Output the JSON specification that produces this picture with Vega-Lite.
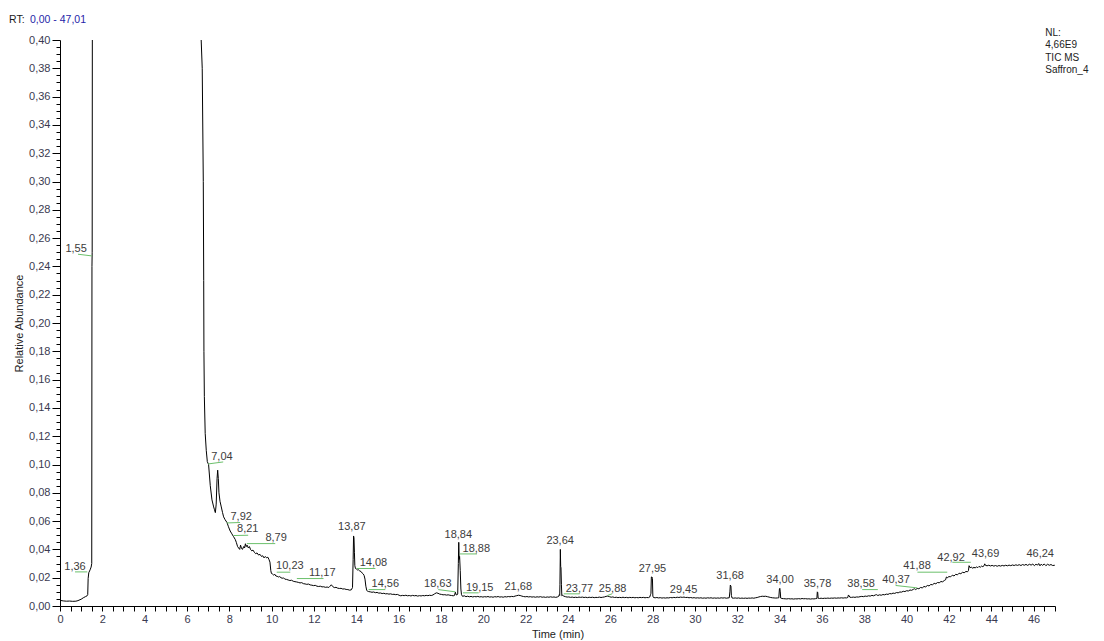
{
  "$schema": "https://vega.github.io/schema/vega-lite/v6.json",
  "width": 995,
  "height": 566,
  "autosize": {"type": "none"},
  "padding": {"left": 60, "top": 40, "right": 49, "bottom": 35},
  "background": "white",
  "config": {"view": {"stroke": null}, "font": "Liberation Sans"},
  "datasets": {
    "trace": [
      {"t":0.00,"a":0.0040},{"t":0.15,"a":0.0036},{"t":0.30,"a":0.0034},{"t":0.45,"a":0.0035},{"t":0.60,"a":0.0033},{"t":0.75,"a":0.0034},{"t":0.85,"a":0.0038},{"t":1.00,"a":0.0048},{"t":1.10,"a":0.0058},{"t":1.20,"a":0.0066},{"t":1.28,"a":0.0072},{"t":1.31,"a":0.0080},{"t":1.33,"a":0.0195},{"t":1.36,"a":0.0235},{"t":1.42,"a":0.0255},{"t":1.47,"a":0.0275},{"t":1.50,"a":0.0300},{"t":1.51,"a":0.2400},{"t":1.52,"a":0.2500},{"t":1.53,"a":0.4500},{"t":1.55,"a":1.0},
      {"t":6.55,"a":1.0},{"t":6.66,"a":0.43},{"t":6.67,"a":0.400},{"t":6.72,"a":0.380},{"t":6.77,"a":0.300},{"t":6.79,"a":0.230},{"t":6.80,"a":0.180},{"t":6.82,"a":0.148},{"t":6.86,"a":0.122},{"t":6.91,"a":0.110},{"t":6.96,"a":0.102},{"t":7.02,"a":0.100},{"t":7.10,"a":0.085},{"t":7.18,"a":0.075},{"t":7.26,"a":0.070},{"t":7.30,"a":0.068},{"t":7.34,"a":0.066},{"t":7.38,"a":0.072},{"t":7.42,"a":0.090},{"t":7.45,"a":0.096},{"t":7.48,"a":0.090},{"t":7.51,"a":0.080},{"t":7.56,"a":0.074},{"t":7.62,"a":0.070},{"t":7.68,"a":0.066},{"t":7.73,"a":0.063},{"t":7.80,"a":0.061},{"t":7.89,"a":0.059},{"t":7.96,"a":0.056},{"t":8.04,"a":0.053},{"t":8.12,"a":0.051},{"t":8.20,"a":0.049},{"t":8.28,"a":0.047},{"t":8.33,"a":0.045},{"t":8.39,"a":0.042},{"t":8.44,"a":0.041},{"t":8.49,"a":0.040},{"t":8.53,"a":0.043},{"t":8.57,"a":0.041},{"t":8.62,"a":0.040},{"t":8.68,"a":0.042},{"t":8.72,"a":0.041},{"t":8.76,"a":0.044},{"t":8.80,"a":0.042},{"t":8.84,"a":0.043},{"t":8.90,"a":0.041},{"t":8.95,"a":0.042},{"t":9.00,"a":0.040},{"t":9.06,"a":0.039},{"t":9.12,"a":0.0395},{"t":9.18,"a":0.038},{"t":9.24,"a":0.037},{"t":9.31,"a":0.0375},{"t":9.38,"a":0.036},{"t":9.45,"a":0.0365},{"t":9.52,"a":0.035},{"t":9.58,"a":0.0355},{"t":9.64,"a":0.034},{"t":9.70,"a":0.035},{"t":9.76,"a":0.034},{"t":9.82,"a":0.0345},{"t":9.87,"a":0.033},{"t":9.92,"a":0.031},{"t":9.96,"a":0.025},{"t":9.99,"a":0.023},
      {"t":10.05,"a":0.0225},{"t":10.10,"a":0.0218},{"t":10.15,"a":0.0224},{"t":10.20,"a":0.0212},{"t":10.26,"a":0.0210},{"t":10.32,"a":0.0205},{"t":10.38,"a":0.0208},{"t":10.44,"a":0.0200},{"t":10.50,"a":0.0196},{"t":10.56,"a":0.0199},{"t":10.62,"a":0.0190},{"t":10.70,"a":0.0188},{"t":10.78,"a":0.0184},{"t":10.86,"a":0.0180},{"t":10.94,"a":0.0182},{"t":11.02,"a":0.0175},{"t":11.10,"a":0.0172},{"t":11.18,"a":0.0170},{"t":11.26,"a":0.0167},{"t":11.34,"a":0.0163},{"t":11.42,"a":0.0165},{"t":11.50,"a":0.0158},{"t":11.58,"a":0.0156},{"t":11.66,"a":0.0153},{"t":11.74,"a":0.0155},{"t":11.82,"a":0.0149},{"t":11.90,"a":0.0147},{"t":11.98,"a":0.0144},{"t":12.06,"a":0.0146},{"t":12.14,"a":0.0140},{"t":12.22,"a":0.0138},{"t":12.30,"a":0.0140},{"t":12.38,"a":0.0135},{"t":12.46,"a":0.0136},{"t":12.54,"a":0.0132},{"t":12.62,"a":0.0134},{"t":12.70,"a":0.0131},{"t":12.76,"a":0.0140},{"t":12.82,"a":0.0150},{"t":12.88,"a":0.0138},{"t":12.96,"a":0.0130},{"t":13.04,"a":0.0132},{"t":13.12,"a":0.0126},{"t":13.20,"a":0.0124},{"t":13.28,"a":0.0125},{"t":13.36,"a":0.0120},{"t":13.44,"a":0.0121},{"t":13.52,"a":0.0117},{"t":13.60,"a":0.0116},{"t":13.68,"a":0.0112},{"t":13.76,"a":0.0114},{"t":13.82,"a":0.0130},{"t":13.85,"a":0.0330},{"t":13.87,"a":0.0495},{"t":13.89,"a":0.0480},{"t":13.91,"a":0.0380},{"t":13.93,"a":0.0285},{"t":13.96,"a":0.0265},{"t":14.00,"a":0.0262},{"t":14.05,"a":0.0255},{"t":14.10,"a":0.0256},{"t":14.16,"a":0.0248},{"t":14.22,"a":0.0244},{"t":14.28,"a":0.0232},{"t":14.33,"a":0.0226},{"t":14.37,"a":0.0215},{"t":14.41,"a":0.0190},{"t":14.45,"a":0.0140},{"t":14.49,"a":0.0112},{"t":14.53,"a":0.0104},{"t":14.58,"a":0.0102},{"t":14.66,"a":0.0100},{"t":14.74,"a":0.0097},{"t":14.82,"a":0.0099},{"t":14.90,"a":0.0094},{"t":14.98,"a":0.0096},{"t":15.06,"a":0.0091},{"t":15.14,"a":0.0092},{"t":15.22,"a":0.0088},{"t":15.30,"a":0.0090},{"t":15.38,"a":0.0086},{"t":15.46,"a":0.0087},{"t":15.54,"a":0.0084},{"t":15.62,"a":0.0086},{"t":15.70,"a":0.0082},{"t":15.78,"a":0.0083},{"t":15.86,"a":0.0080},{"t":15.94,"a":0.0082},{"t":16.02,"a":0.0076},{"t":16.10,"a":0.0072},{"t":16.18,"a":0.0075},{"t":16.26,"a":0.0073},{"t":16.34,"a":0.0076},{"t":16.42,"a":0.0072},{"t":16.50,"a":0.0074},{"t":16.58,"a":0.0071},{"t":16.66,"a":0.0075},{"t":16.74,"a":0.0072},{"t":16.82,"a":0.0074},{"t":16.90,"a":0.0070},{"t":16.98,"a":0.0073},{"t":17.06,"a":0.0071},{"t":17.14,"a":0.0074},{"t":17.22,"a":0.0072},{"t":17.30,"a":0.0075},{"t":17.38,"a":0.0073},{"t":17.46,"a":0.0076},{"t":17.54,"a":0.0074},{"t":17.62,"a":0.0078},{"t":17.70,"a":0.0086},{"t":17.78,"a":0.0093},{"t":17.86,"a":0.0090},{"t":17.94,"a":0.0084},{"t":18.02,"a":0.0082},{"t":18.10,"a":0.0079},{"t":18.18,"a":0.0080},{"t":18.26,"a":0.0077},{"t":18.34,"a":0.0079},{"t":18.42,"a":0.0076},{"t":18.50,"a":0.0074},{"t":18.58,"a":0.0072},{"t":18.64,"a":0.0075},{"t":18.68,"a":0.0098},{"t":18.71,"a":0.0080},{"t":18.75,"a":0.0078},{"t":18.79,"a":0.0085},{"t":18.82,"a":0.0300},{"t":18.84,"a":0.0450},{"t":18.86,"a":0.0330},{"t":18.88,"a":0.0350},{"t":18.91,"a":0.0250},{"t":18.94,"a":0.0120},{"t":18.97,"a":0.0080},
      {"t":19.02,"a":0.0068},{"t":19.10,"a":0.0072},{"t":19.18,"a":0.0066},{"t":19.26,"a":0.0069},{"t":19.34,"a":0.0065},{"t":19.42,"a":0.0068},{"t":19.50,"a":0.0064},{"t":19.58,"a":0.0067},{"t":19.66,"a":0.0065},{"t":19.74,"a":0.0068},{"t":19.82,"a":0.0064},{"t":19.90,"a":0.0066},{"t":19.98,"a":0.0063},{"t":20.06,"a":0.0066},{"t":20.14,"a":0.0064},{"t":20.22,"a":0.0067},{"t":20.30,"a":0.0063},{"t":20.38,"a":0.0065},{"t":20.46,"a":0.0062},{"t":20.54,"a":0.0066},{"t":20.62,"a":0.0064},{"t":20.70,"a":0.0067},{"t":20.78,"a":0.0063},{"t":20.86,"a":0.0065},{"t":20.94,"a":0.0062},{"t":21.02,"a":0.0066},{"t":21.10,"a":0.0064},{"t":21.18,"a":0.0067},{"t":21.26,"a":0.0065},{"t":21.34,"a":0.0068},{"t":21.42,"a":0.0066},{"t":21.50,"a":0.0070},{"t":21.58,"a":0.0073},{"t":21.66,"a":0.0076},{"t":21.74,"a":0.0074},{"t":21.82,"a":0.0070},{"t":21.90,"a":0.0067},{"t":21.98,"a":0.0065},{"t":22.06,"a":0.0067},{"t":22.14,"a":0.0064},{"t":22.22,"a":0.0066},{"t":22.30,"a":0.0063},{"t":22.38,"a":0.0065},{"t":22.46,"a":0.0062},{"t":22.54,"a":0.0065},{"t":22.62,"a":0.0063},{"t":22.70,"a":0.0066},{"t":22.78,"a":0.0062},{"t":22.86,"a":0.0064},{"t":22.94,"a":0.0061},{"t":23.02,"a":0.0064},{"t":23.10,"a":0.0062},{"t":23.18,"a":0.0065},{"t":23.26,"a":0.0062},{"t":23.34,"a":0.0064},{"t":23.42,"a":0.0061},{"t":23.50,"a":0.0064},{"t":23.56,"a":0.0068},{"t":23.59,"a":0.0080},{"t":23.61,"a":0.0075},{"t":23.62,"a":0.0150},{"t":23.64,"a":0.0400},{"t":23.655,"a":0.0280},{"t":23.67,"a":0.0270},{"t":23.69,"a":0.0150},{"t":23.71,"a":0.0072},{"t":23.75,"a":0.0076},{"t":23.80,"a":0.0070},{"t":23.88,"a":0.0066},{"t":23.96,"a":0.0063},{"t":24.04,"a":0.0064},{"t":24.12,"a":0.0061},{"t":24.20,"a":0.0063},{"t":24.28,"a":0.0060},{"t":24.36,"a":0.0062},{"t":24.44,"a":0.0060},{"t":24.52,"a":0.0063},{"t":24.60,"a":0.0061},{"t":24.68,"a":0.0063},{"t":24.76,"a":0.0060},{"t":24.84,"a":0.0062},{"t":24.92,"a":0.0059},{"t":25.00,"a":0.0062},{"t":25.08,"a":0.0060},{"t":25.16,"a":0.0062},{"t":25.24,"a":0.0059},{"t":25.32,"a":0.0061},{"t":25.40,"a":0.0060},{"t":25.48,"a":0.0063},{"t":25.56,"a":0.0060},{"t":25.64,"a":0.0062},{"t":25.72,"a":0.0064},{"t":25.80,"a":0.0068},{"t":25.88,"a":0.0070},{"t":25.96,"a":0.0066},{"t":26.04,"a":0.0062},{"t":26.12,"a":0.0064},{"t":26.20,"a":0.0060},{"t":26.28,"a":0.0062},{"t":26.36,"a":0.0059},{"t":26.44,"a":0.0061},{"t":26.52,"a":0.0059},{"t":26.60,"a":0.0062},{"t":26.68,"a":0.0059},{"t":26.76,"a":0.0061},{"t":26.84,"a":0.0058},{"t":26.92,"a":0.0061},{"t":27.00,"a":0.0059},{"t":27.08,"a":0.0061},{"t":27.16,"a":0.0058},{"t":27.24,"a":0.0060},{"t":27.32,"a":0.0058},{"t":27.40,"a":0.0061},{"t":27.48,"a":0.0059},{"t":27.56,"a":0.0061},{"t":27.64,"a":0.0058},{"t":27.72,"a":0.0060},{"t":27.80,"a":0.0059},{"t":27.86,"a":0.0063},{"t":27.90,"a":0.0080},{"t":27.92,"a":0.0090},{"t":27.94,"a":0.0205},{"t":27.97,"a":0.0205},{"t":27.99,"a":0.0195},{"t":28.01,"a":0.0070},{"t":28.04,"a":0.0060},{"t":28.12,"a":0.0058},{"t":28.20,"a":0.0060},{"t":28.28,"a":0.0057},{"t":28.36,"a":0.0059},{"t":28.44,"a":0.0056},{"t":28.52,"a":0.0058},{"t":28.60,"a":0.0056},{"t":28.68,"a":0.0058},{"t":28.76,"a":0.0057},{"t":28.84,"a":0.0060},{"t":28.92,"a":0.0058},{"t":29.00,"a":0.0061},{"t":29.08,"a":0.0059},{"t":29.16,"a":0.0062},{"t":29.24,"a":0.0060},{"t":29.32,"a":0.0063},{"t":29.40,"a":0.0061},{"t":29.48,"a":0.0063},{"t":29.56,"a":0.0060},{"t":29.64,"a":0.0061},{"t":29.72,"a":0.0058},{"t":29.80,"a":0.0060},{"t":29.88,"a":0.0057},{"t":29.96,"a":0.0059},{"t":30.04,"a":0.0056},{"t":30.12,"a":0.0058},{"t":30.20,"a":0.0056},{"t":30.28,"a":0.0058},{"t":30.36,"a":0.0055},{"t":30.44,"a":0.0057},{"t":30.52,"a":0.0055},{"t":30.60,"a":0.0058},{"t":30.68,"a":0.0056},{"t":30.76,"a":0.0058},{"t":30.84,"a":0.0055},{"t":30.92,"a":0.0057},{"t":31.00,"a":0.0055},{"t":31.08,"a":0.0057},{"t":31.16,"a":0.0055},{"t":31.24,"a":0.0058},{"t":31.32,"a":0.0056},{"t":31.40,"a":0.0058},{"t":31.48,"a":0.0055},{"t":31.56,"a":0.0057},{"t":31.62,"a":0.0058},{"t":31.65,"a":0.0100},{"t":31.67,"a":0.0148},{"t":31.70,"a":0.0140},{"t":31.72,"a":0.0075},{"t":31.75,"a":0.0057},{"t":31.82,"a":0.0055},{"t":31.90,"a":0.0057},{"t":31.98,"a":0.0055},{"t":32.06,"a":0.0057},{"t":32.14,"a":0.0054},{"t":32.22,"a":0.0056},{"t":32.30,"a":0.0054},{"t":32.38,"a":0.0056},{"t":32.46,"a":0.0054},{"t":32.54,"a":0.0056},{"t":32.62,"a":0.0055},{"t":32.70,"a":0.0057},{"t":32.78,"a":0.0055},{"t":32.86,"a":0.0058},{"t":32.94,"a":0.0060},{"t":33.02,"a":0.0064},{"t":33.10,"a":0.0067},{"t":33.18,"a":0.0069},{"t":33.26,"a":0.0068},{"t":33.34,"a":0.0069},{"t":33.42,"a":0.0066},{"t":33.50,"a":0.0063},{"t":33.58,"a":0.0060},{"t":33.66,"a":0.0058},{"t":33.74,"a":0.0057},{"t":33.82,"a":0.0056},{"t":33.90,"a":0.0057},{"t":33.96,"a":0.0058},{"t":33.99,"a":0.0120},{"t":34.01,"a":0.0125},{"t":34.03,"a":0.0100},{"t":34.05,"a":0.0056},{"t":34.10,"a":0.0053},{"t":34.18,"a":0.0052},{"t":34.26,"a":0.0051},{"t":34.34,"a":0.0050},{"t":34.42,"a":0.0052},{"t":34.50,"a":0.0050},{"t":34.58,"a":0.0051},{"t":34.66,"a":0.0049},{"t":34.74,"a":0.0051},{"t":34.82,"a":0.0050},{"t":34.90,"a":0.0052},{"t":34.98,"a":0.0050},{"t":35.06,"a":0.0053},{"t":35.14,"a":0.0051},{"t":35.22,"a":0.0052},{"t":35.30,"a":0.0050},{"t":35.38,"a":0.0051},{"t":35.46,"a":0.0049},{"t":35.54,"a":0.0051},{"t":35.62,"a":0.0050},{"t":35.70,"a":0.0052},{"t":35.76,"a":0.0053},{"t":35.78,"a":0.0100},{"t":35.80,"a":0.0095},{"t":35.82,"a":0.0055},{"t":35.88,"a":0.0053},{"t":35.96,"a":0.0055},{"t":36.04,"a":0.0053},{"t":36.12,"a":0.0055},{"t":36.20,"a":0.0054},{"t":36.28,"a":0.0056},{"t":36.36,"a":0.0054},{"t":36.44,"a":0.0056},{"t":36.52,"a":0.0055},{"t":36.60,"a":0.0057},{"t":36.68,"a":0.0055},{"t":36.76,"a":0.0057},{"t":36.84,"a":0.0056},{"t":36.92,"a":0.0058},{"t":37.00,"a":0.0056},{"t":37.08,"a":0.0058},{"t":37.16,"a":0.0057},{"t":37.22,"a":0.0060},{"t":37.25,"a":0.0078},{"t":37.28,"a":0.0072},{"t":37.32,"a":0.0062},{"t":37.40,"a":0.0061},{"t":37.48,"a":0.0063},{"t":37.56,"a":0.0061},{"t":37.64,"a":0.0064},{"t":37.72,"a":0.0063},{"t":37.80,"a":0.0066},{"t":37.88,"a":0.0068},{"t":37.96,"a":0.0066},{"t":38.04,"a":0.0070},{"t":38.12,"a":0.0068},{"t":38.20,"a":0.0072},{"t":38.28,"a":0.0070},{"t":38.36,"a":0.0075},{"t":38.44,"a":0.0072},{"t":38.52,"a":0.0078},{"t":38.58,"a":0.0080},{"t":38.64,"a":0.0074},{"t":38.72,"a":0.0079},{"t":38.80,"a":0.0076},{"t":38.88,"a":0.0081},{"t":38.96,"a":0.0079},{"t":39.04,"a":0.0084},{"t":39.12,"a":0.0082},{"t":39.20,"a":0.0088},{"t":39.28,"a":0.0086},{"t":39.36,"a":0.0091},{"t":39.44,"a":0.0089},{"t":39.52,"a":0.0095},{"t":39.60,"a":0.0093},{"t":39.68,"a":0.0099},{"t":39.76,"a":0.0098},{"t":39.84,"a":0.0104},{"t":39.92,"a":0.0102},{"t":40.00,"a":0.0108},{"t":40.08,"a":0.0106},{"t":40.16,"a":0.0113},{"t":40.24,"a":0.0111},{"t":40.32,"a":0.0118},{"t":40.37,"a":0.0122},{"t":40.42,"a":0.0116},{"t":40.50,"a":0.0124},{"t":40.58,"a":0.0122},{"t":40.66,"a":0.0131},{"t":40.74,"a":0.0128},{"t":40.82,"a":0.0138},{"t":40.90,"a":0.0135},{"t":40.98,"a":0.0145},{"t":41.06,"a":0.0142},{"t":41.14,"a":0.0152},{"t":41.22,"a":0.0150},{"t":41.30,"a":0.0160},{"t":41.38,"a":0.0157},{"t":41.46,"a":0.0166},{"t":41.54,"a":0.0164},{"t":41.62,"a":0.0173},{"t":41.70,"a":0.0171},{"t":41.78,"a":0.0180},{"t":41.84,"a":0.0185},{"t":41.88,"a":0.0205},{"t":41.92,"a":0.0200},{"t":42.00,"a":0.0208},{"t":42.08,"a":0.0206},{"t":42.16,"a":0.0218},{"t":42.24,"a":0.0212},{"t":42.32,"a":0.0224},{"t":42.40,"a":0.0220},{"t":42.48,"a":0.0232},{"t":42.56,"a":0.0228},{"t":42.64,"a":0.0238},{"t":42.72,"a":0.0235},{"t":42.80,"a":0.0244},{"t":42.88,"a":0.0242},{"t":42.92,"a":0.0250},{"t":42.95,"a":0.0285},{"t":43.00,"a":0.0270},{"t":43.06,"a":0.0276},{"t":43.12,"a":0.0266},{"t":43.18,"a":0.0274},{"t":43.24,"a":0.0268},{"t":43.30,"a":0.0277},{"t":43.36,"a":0.0271},{"t":43.42,"a":0.0280},{"t":43.48,"a":0.0274},{"t":43.54,"a":0.0282},{"t":43.60,"a":0.0278},{"t":43.66,"a":0.0285},{"t":43.69,"a":0.0298},{"t":43.72,"a":0.0288},{"t":43.80,"a":0.0284},{"t":43.88,"a":0.0288},{"t":43.96,"a":0.0283},{"t":44.04,"a":0.0287},{"t":44.12,"a":0.0282},{"t":44.20,"a":0.0286},{"t":44.28,"a":0.0281},{"t":44.36,"a":0.0286},{"t":44.44,"a":0.0282},{"t":44.52,"a":0.0287},{"t":44.60,"a":0.0283},{"t":44.68,"a":0.0288},{"t":44.76,"a":0.0284},{"t":44.84,"a":0.0289},{"t":44.92,"a":0.0285},{"t":45.00,"a":0.0290},{"t":45.08,"a":0.0286},{"t":45.16,"a":0.0291},{"t":45.24,"a":0.0287},{"t":45.32,"a":0.0292},{"t":45.40,"a":0.0286},{"t":45.48,"a":0.0293},{"t":45.56,"a":0.0288},{"t":45.64,"a":0.0294},{"t":45.72,"a":0.0287},{"t":45.80,"a":0.0295},{"t":45.88,"a":0.0289},{"t":45.96,"a":0.0296},{"t":46.04,"a":0.0285},{"t":46.12,"a":0.0297},{"t":46.18,"a":0.0288},{"t":46.24,"a":0.0300},{"t":46.30,"a":0.0284},{"t":46.36,"a":0.0296},{"t":46.42,"a":0.0287},{"t":46.50,"a":0.0297},{"t":46.58,"a":0.0285},{"t":46.66,"a":0.0295},{"t":46.74,"a":0.0288},{"t":46.82,"a":0.0293},{"t":46.90,"a":0.0286},{"t":47.00,"a":0.0288}
    ],
    "peakLabels": [
      {"t":0.76,"a":0.2525,"s":"1,55"},{"t":0.71,"a":0.0279,"s":"1,36"},{"t":7.65,"a":0.1055,"s":"7,04"},{"t":8.56,"a":0.063,"s":"7,92"},{"t":8.87,"a":0.0545,"s":"8,21"},{"t":10.21,"a":0.0481,"s":"8,79"},{"t":10.86,"a":0.0281,"s":"10,23"},{"t":12.39,"a":0.0234,"s":"11,17"},{"t":13.79,"a":0.0559,"s":"13,87"},{"t":14.81,"a":0.0305,"s":"14,08"},{"t":15.37,"a":0.0157,"s":"14,56"},{"t":17.85,"a":0.0157,"s":"18,63"},{"t":18.82,"a":0.0505,"s":"18,84"},{"t":19.67,"a":0.0404,"s":"18,88"},{"t":19.83,"a":0.0128,"s":"19,15"},{"t":21.65,"a":0.0136,"s":"21,68"},{"t":23.63,"a":0.0457,"s":"23,64"},{"t":24.54,"a":0.0121,"s":"23,77"},{"t":26.11,"a":0.0121,"s":"25,88"},{"t":27.99,"a":0.0263,"s":"27,95"},{"t":29.46,"a":0.0112,"s":"29,45"},{"t":31.66,"a":0.0215,"s":"31,68"},{"t":34.02,"a":0.0182,"s":"34,00"},{"t":35.79,"a":0.0159,"s":"35,78"},{"t":37.85,"a":0.0159,"s":"38,58"},{"t":39.50,"a":0.0182,"s":"40,37"},{"t":40.49,"a":0.0281,"s":"41,88"},{"t":42.10,"a":0.034,"s":"42,92"},{"t":43.73,"a":0.0364,"s":"43,69"},{"t":46.31,"a":0.0364,"s":"46,24"}
    ],
    "peakMarks": [
      {"t":0.85,"t2":1.51,"a":0.2486,"a2":0.2474},{"t":0.71,"t2":1.29,"a":0.0241,"a2":0.0241},{"t":7.0,"t2":7.71,"a":0.1004,"a2":0.1018},{"t":7.88,"t2":8.51,"a":0.0587,"a2":0.0590},{"t":8.2,"t2":8.89,"a":0.0498,"a2":0.0500},{"t":8.83,"t2":10.17,"a":0.0441,"a2":0.0441},{"t":10.24,"t2":10.88,"a":0.0239,"a2":0.0239},{"t":11.19,"t2":12.45,"a":0.0194,"a2":0.0194},{"t":14.03,"t2":14.9,"a":0.0265,"a2":0.0265},{"t":14.58,"t2":15.37,"a":0.0116,"a2":0.0116},{"t":17.87,"t2":18.68,"a":0.0116,"a2":0.0100},{"t":18.88,"t2":19.7,"a":0.0368,"a2":0.0368},{"t":19.04,"t2":19.78,"a":0.0093,"a2":0.0093},{"t":23.8,"t2":24.55,"a":0.0086,"a2":0.0086},{"t":25.86,"t2":26.08,"a":0.0074,"a2":0.0086},{"t":37.9,"t2":38.64,"a":0.0116,"a2":0.0116},{"t":39.48,"t2":40.5,"a":0.0145,"a2":0.0128},{"t":40.51,"t2":41.92,"a":0.0239,"a2":0.0239},{"t":42.16,"t2":43.03,"a":0.0309,"a2":0.0309}
    ],
    "header": [
      {"t":-2.41,"a":0.414,"s":"RT:","k":"rt"},
      {"t":-1.42,"a":0.414,"s":"0,00 - 47,01","k":"range"},
      {"t":46.55,"a":0.4048,"s":"NL:","k":"info"},
      {"t":46.55,"a":0.3963,"s":"4,66E9","k":"info"},
      {"t":46.55,"a":0.3872,"s":"TIC  MS","k":"info"},
      {"t":46.55,"a":0.3787,"s":"Saffron_4","k":"info"}
    ]
  },
  "encoding": {
    "x": {
      "field": "t", "type": "quantitative", "title": "Time (min)",
      "scale": {"domain": [0, 47.01], "nice": false, "zero": false},
      "axis": {
        "values": [0,0.5,1,1.5,2,2.5,3,3.5,4,4.5,5,5.5,6,6.5,7,7.5,8,8.5,9,9.5,10,10.5,11,11.5,12,12.5,13,13.5,14,14.5,15,15.5,16,16.5,17,17.5,18,18.5,19,19.5,20,20.5,21,21.5,22,22.5,23,23.5,24,24.5,25,25.5,26,26.5,27,27.5,28,28.5,29,29.5,30,30.5,31,31.5,32,32.5,33,33.5,34,34.5,35,35.5,36,36.5,37,37.5,38,38.5,39,39.5,40,40.5,41,41.5,42,42.5,43,43.5,44,44.5,45,45.5,46,46.5,47],
        "labelExpr": "datum.value % 2 === 0 ? format(datum.value, 'd') : ''",
        "grid": false, "tickSize": 5, "tickColor": "#000000", "domainColor": "#000000",
        "labelColor": "#3a3a50", "labelFontSize": 11, "labelPadding": 2,
        "labelOverlap": false, "labelFlush": false, "labelBound": false,
        "titleFontSize": 11, "titleFontWeight": "normal", "titleColor": "#222222",
        "titleY": 31, "titleBaseline": "alphabetic"
      }
    },
    "y": {
      "field": "a", "type": "quantitative", "title": "Relative Abundance",
      "scale": {"domain": [0, 0.4], "nice": false, "zero": false},
      "axis": {
        "values": [0,0.005,0.01,0.015,0.02,0.025,0.03,0.035,0.04,0.045,0.05,0.055,0.06,0.065,0.07,0.075,0.08,0.085,0.09,0.095,0.1,0.105,0.11,0.115,0.12,0.125,0.13,0.135,0.14,0.145,0.15,0.155,0.16,0.165,0.17,0.175,0.18,0.185,0.19,0.195,0.2,0.205,0.21,0.215,0.22,0.225,0.23,0.235,0.24,0.245,0.25,0.255,0.26,0.265,0.27,0.275,0.28,0.285,0.29,0.295,0.3,0.305,0.31,0.315,0.32,0.325,0.33,0.335,0.34,0.345,0.35,0.355,0.36,0.365,0.37,0.375,0.38,0.385,0.39,0.395,0.4],
        "labelExpr": "abs(datum.value * 50 - round(datum.value * 50)) < 0.001 ? replace(format(datum.value, '.2f'), '.', ',') : ''",
        "tickSize": {"condition": {"test": "abs(datum.value * 50 - round(datum.value * 50)) < 0.001", "value": 8}, "value": 4},
        "grid": false, "tickColor": "#000000", "domainColor": "#000000",
        "labelColor": "#3a3a50", "labelFontSize": 11, "labelPadding": 2,
        "labelOverlap": false, "labelBound": false, "labelFlush": false,
        "titleFontSize": 11, "titleFontWeight": "normal", "titleColor": "#222222",
        "titleX": -41, "titleY": 283, "titleAngle": -90, "titleAlign": "center", "titleBaseline": "middle"
      }
    }
  },
  "layer": [
    {
      "data": {"name": "trace"},
      "mark": {"type": "line", "color": "#000000", "strokeWidth": 1, "clip": true}
    },
    {
      "data": {"name": "peakMarks"},
      "mark": {"type": "rule", "color": "#6cc06c", "strokeWidth": 1},
      "encoding": {"x2": {"field": "t2"}, "y2": {"field": "a2"}}
    },
    {
      "data": {"name": "peakLabels"},
      "mark": {"type": "text", "fontSize": 11, "color": "#3c3c3c", "align": "center", "baseline": "middle"},
      "encoding": {"text": {"field": "s"}}
    },
    {
      "data": {"name": "header"},
      "transform": [{"filter": "datum.k === 'rt'"}],
      "mark": {"type": "text", "fontSize": 10.5, "color": "#1a1a1a", "align": "left", "baseline": "middle"},
      "encoding": {"text": {"field": "s"}}
    },
    {
      "data": {"name": "header"},
      "transform": [{"filter": "datum.k === 'range'"}],
      "mark": {"type": "text", "fontSize": 10.5, "color": "#2525a8", "align": "left", "baseline": "middle"},
      "encoding": {"text": {"field": "s"}}
    },
    {
      "data": {"name": "header"},
      "transform": [{"filter": "datum.k === 'info'"}],
      "mark": {"type": "text", "fontSize": 10, "color": "#222222", "align": "left", "baseline": "middle"},
      "encoding": {"text": {"field": "s"}}
    }
  ]
}
